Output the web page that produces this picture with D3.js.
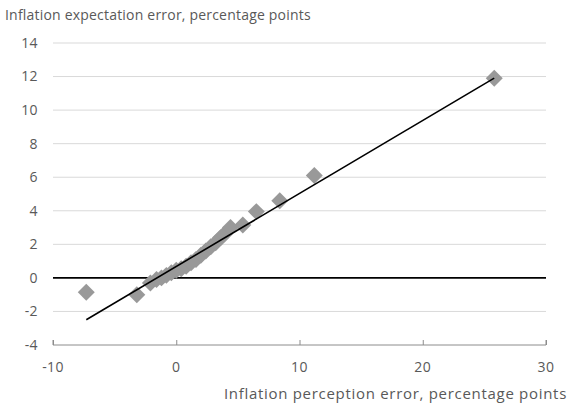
<!DOCTYPE html>
<html>
<head>
<meta charset="utf-8">
<script src="https://cdn.jsdelivr.net/npm/d3@7"></script>
<style>
  body { margin: 0; background: #fff; }
  text { font-family: "Open Sans", "Noto Sans", sans-serif; fill: #595959; }
</style>
</head>
<body>
<div id="chart"></div>
<script>
// perception error (x) vs expectation error (y), percentage points
const perceptionErr = [-7.3, -3.2, -2.1, -1.6, -1.2, -0.8, -0.4, 0, 0.4, 0.8, 1.2, 1.6, 2.0, 2.4, 2.8, 3.2, 3.6, 3.9, 4.4, 5.4, 6.5, 8.4, 11.2, 25.8];
const expectationErr = [-0.85, -1.0, -0.3, -0.1, 0.0, 0.15, 0.3, 0.45, 0.55, 0.7, 0.9, 1.1, 1.35, 1.6, 1.85, 2.1, 2.4, 2.6, 3.0, 3.15, 3.95, 4.6, 6.1, 11.9];

// fitted line
const trendSlope = 0.435;
const trendIntercept = 0.68;

const xTicks = [-10, 0, 10, 20, 30];
const yTicks = [-4, -2, 0, 2, 4, 6, 8, 10, 12, 14];

const width = 569;
const height = 407;
const margin = { top: 43, right: 23, bottom: 62, left: 53 };

const svg = d3.select("#chart")
  .append("svg")
    .attr("width", width)
    .attr("height", height);

const x = d3.scaleLinear()
  .domain([-10, 30])
  .range([margin.left, width - margin.right]);

const y = d3.scaleLinear()
  .domain([-4, 14])
  .range([height - margin.bottom, margin.top]);

// Gridlines
svg.append("g")
  .selectAll("line")
  .data(yTicks.filter(d => d !== -4 && d !== 0))
  .join("line")
    .attr("x1", x(-10))
    .attr("x2", x(30))
    .attr("y1", d => y(d))
    .attr("y2", d => y(d))
    .attr("stroke", "#d9d9d9")
    .attr("stroke-width", 1);

// Y tick labels
svg.append("g")
  .selectAll("text")
  .data(yTicks)
  .join("text")
    .attr("x", 38)
    .attr("y", d => y(d))
    .attr("dy", "0.35em")
    .attr("text-anchor", "end")
    .style("font-size", "14px")
    .style("letter-spacing", "0.4px")
    .text(d => d);

// X axis at bottom, ticks pointing up
const xAxis = svg.append("g")
  .attr("transform", `translate(0, ${y(-4)})`)
  .call(d3.axisTop(x).tickValues(xTicks).tickSize(5).tickFormat(""));
xAxis.select(".domain").attr("stroke", "#8c8c8c").attr("d", `M${x(-10)},-5V0H${x(30)}V-5`);
xAxis.selectAll(".tick line").attr("stroke", "#8c8c8c");

svg.append("g")
  .selectAll("text")
  .data(xTicks)
  .join("text")
    .attr("x", d => x(d))
    .attr("y", y(-4) + 27)
    .attr("text-anchor", "middle")
    .style("font-size", "14px")
    .style("letter-spacing", "0.4px")
    .text(d => d);

// Zero line
svg.append("line")
  .attr("x1", x(-10))
  .attr("x2", x(30))
  .attr("y1", y(0))
  .attr("y2", y(0))
  .attr("stroke", "#000")
  .attr("stroke-width", 1.6);

// Points
const points = perceptionErr.map((d, i) => [d, expectationErr[i]]);
const diamond = d3.symbol().type(d3.symbolSquare).size(144);

svg.append("g")
  .selectAll("path")
  .data(points)
  .join("path")
    .attr("d", diamond)
    .attr("transform", d => `translate(${x(d[0])}, ${y(d[1])}) rotate(45)`)
    .attr("fill", "#999999");

// Trend line
const xMin = d3.min(perceptionErr);
const xMax = d3.max(perceptionErr);
svg.append("line")
  .attr("x1", x(xMin))
  .attr("x2", x(xMax))
  .attr("y1", y(trendSlope * xMin + trendIntercept))
  .attr("y2", y(trendSlope * xMax + trendIntercept))
  .attr("stroke", "#000")
  .attr("stroke-width", 1.6);

// Titles
svg.append("text")
  .attr("x", 5)
  .attr("y", 20)
  .style("font-size", "14px")
  .style("letter-spacing", "0.2px")
  .text("Inflation expectation error, percentage points");

svg.append("text")
  .attr("x", 567)
  .attr("y", 399)
  .attr("text-anchor", "end")
  .style("font-size", "15px")
  .style("letter-spacing", "0.7px")
  .text("Inflation perception error, percentage points");
</script>
</body>
</html>
